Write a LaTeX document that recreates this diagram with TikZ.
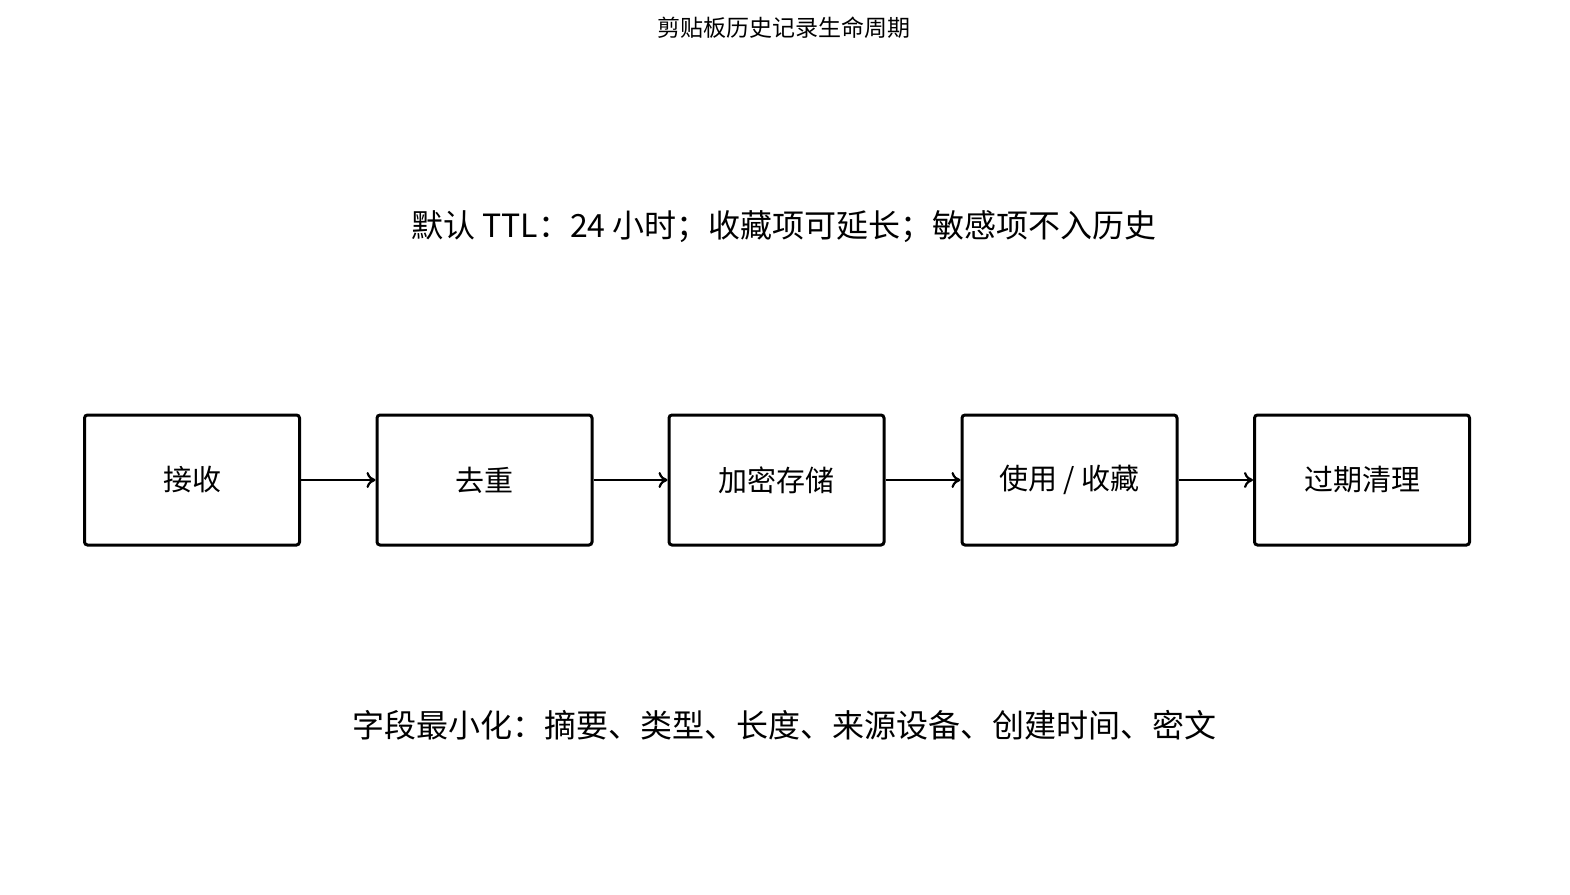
\documentclass[tikz,border=0pt]{standalone}
\usepackage{fontspec}
\newfontfamily\cjk{Noto Sans CJK SC}
\usetikzlibrary{arrows.meta}
\begin{document}
\begin{tikzpicture}[x=1pt,y=-1pt,
  box/.style={draw,line width=3pt,rounded corners=3pt,minimum width=215pt,minimum height=130pt,font=\cjk\fontsize{29}{34}\selectfont},
  arr/.style={line width=2.2pt,-{To[length=9pt,width=16pt,line width=2.2pt]}},
  txt/.style={font=\cjk\fontsize{32}{38}\selectfont}]
\useasboundingbox (0,0) rectangle (1570,894);
\node[font=\cjk\fontsize{23}{28}\selectfont] (title) at (784,28) {剪贴板历史记录生命周期};
\node[txt] (ttl) at (784,227) {默认 TTL：24 小时；收藏项可延长；敏感项不入历史};
\node[txt] (fields) at (784,725) {字段最小化：摘要、类型、长度、来源设备、创建时间、密文};
\node[box] (a) at (192,480) {接收};
\node[box] (b) at (484.5,480) {去重};
\node[box] (c) at (776.5,480) {加密存储};
\node[box] (d) at (1069.5,480) {使用 / 收藏};
\node[box] (e) at (1362,480) {过期清理};
\draw[arr] (a) -- (b);
\draw[arr] (b) -- (c);
\draw[arr] (c) -- (d);
\draw[arr] (d) -- (e);
\end{tikzpicture}
\end{document}
